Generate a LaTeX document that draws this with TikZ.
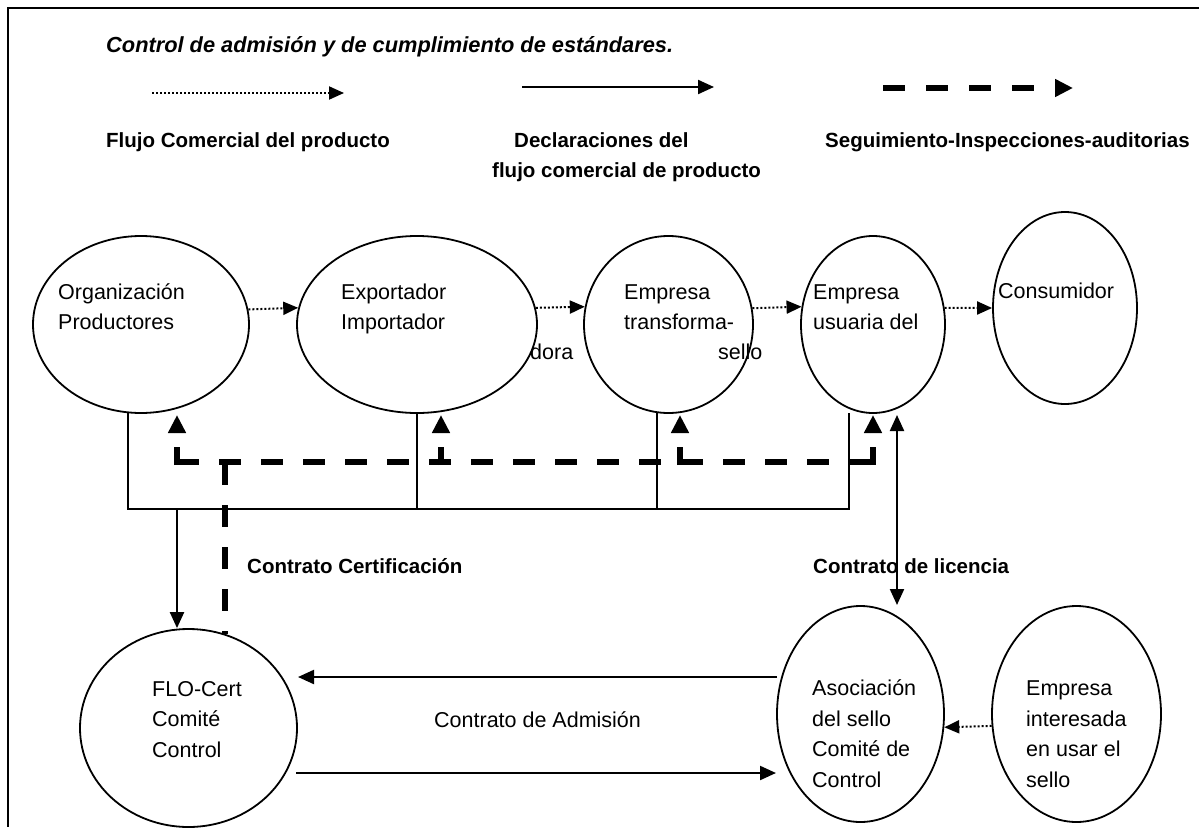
\documentclass[tikz,border=0pt]{standalone}
\usepackage{fontspec}
\setmainfont{Liberation Sans}
\usetikzlibrary{arrows.meta,shapes.geometric,calc}

\begin{document}
\begin{tikzpicture}[x=1pt,y=-1pt,
  oval/.style={ellipse, draw, line width=1.8pt, inner sep=0pt},
  body/.style={font=\fontsize{21.5pt}{30.5pt}\selectfont, align=left, anchor=base west, inner sep=0pt},
  legend/.style={font=\bfseries\fontsize{20.5pt}{30pt}\selectfont, align=left, anchor=base west, inner sep=0pt},
  flow/.style={line width=2pt, dash pattern=on 2pt off 2pt, -{Triangle[length=15pt,width=13pt]}},
  decl/.style={line width=2.2pt, -{Triangle[length=16pt,width=14pt]}},
  decl2/.style={line width=2.2pt, {Triangle[length=16pt,width=14pt]}-{Triangle[length=16pt,width=14pt]}},
  bracket/.style={line width=1.6pt},
  audit/.style={line width=6pt, dash pattern=on 22pt off 20pt},
  auditkey/.style={line width=6pt, dash pattern=on 22pt off 21pt, -{Triangle[length=18pt,width=17pt]}},
  auditup/.style={line width=6pt, dash pattern=on 18pt off 14pt, -{Triangle[length=18pt,width=17pt]}},
]
\useasboundingbox (0,0) rectangle (1199,827);

% outer frame (top and left edges)
\draw[line width=2.5pt] (1199,8) -- (8,8) -- (8,827);

% legend (multi-line nodes are placed by the baseline of their last line)
\node[legend, font=\bfseries\itshape\fontsize{21.8pt}{30pt}\selectfont] (title) at (106,52) {Control de admisión y de cumplimiento de estándares.};
\coordinate (kf1) at (152,93);  \coordinate (kf2) at (344,93);
\coordinate (kd1) at (522,87);  \coordinate (kd2) at (714,87);
\coordinate (ka1) at (883,88);  \coordinate (ka2) at (1073,88);
\draw[flow] (kf1) -- (kf2);
\draw[decl] (kd1) -- (kd2);
\draw[auditkey] (ka1) -- (ka2);
\node[legend] (kflow) at (106,147) {Flujo Comercial del producto};
\node[legend] (kdecl) at (492,177) {\hspace*{22pt}Declaraciones del\\flujo comercial de producto};
\node[legend] (kaudit) at (825,147) {Seguimiento-Inspecciones-auditorias};

% chain of actors
\node[oval, minimum width=216pt, minimum height=177pt] (org)  at (141,324.5) {};
\node[oval, minimum width=240pt, minimum height=177pt] (exp)  at (417,324.5) {};
\node[oval, minimum width=169pt, minimum height=177pt] (tra)  at (668.5,324.5) {};
\node[oval, minimum width=144pt, minimum height=177pt] (usu)  at (873,324.5) {};
\node[oval, minimum width=144pt, minimum height=192pt] (cons) at (1065,308) {};

\node[body] (torg) at (58,329.5) {Organización\\Productores};
\node[body] (texp) at (341,329.5) {Exportador\\Importador};
\node[body] (tdora) at (530,359) {dora};
\node[body] (ttra) at (624,329.5) {Empresa\\transforma-};
\node[body] (tsel) at (718,359) {sello};
\node[body] (tusu) at (813,329.5) {Empresa\\usuaria del};
\node[body] (tcons) at (998,298) {Consumidor};

% commercial flow
\draw[flow] (org.8.8) -- (exp.172);
\draw[flow] (exp.8) -- (tra.168.8);
\draw[flow] (tra.11.2) -- (usu.166.9);
\draw[flow] (usu.13.1) -- (cons.west);

% control bodies
\node[oval, minimum width=217pt, minimum height=198pt] (flo) at (188.5,728) {};
\node[oval, minimum width=167pt, minimum height=216pt] (aso) at (860.5,714) {};
\node[oval, minimum width=169pt, minimum height=216pt] (int) at (1076.5,714) {};

\node[body] (tflo) at (152,757) {FLO-Cert\\Comité\\Control};
\node[body] (taso) at (812,787) {Asociación\\del sello\\Comité de\\Control};
\node[body] (tint) at (1026,787) {Empresa\\interesada\\en usar el\\sello};

% declarations bracket
\coordinate (b1) at (128,413); \coordinate (b2) at (417,413);
\coordinate (b3) at (657,413); \coordinate (b4) at (849,413);
\coordinate (c1) at (128,509); \coordinate (c2) at (417,509);
\coordinate (c3) at (657,509); \coordinate (c4) at (849,509);
\coordinate (cd) at (177,509);
\draw[bracket] (b1) -- (c1) -- (c4) -- (b4);
\draw[bracket] (b2) -- (c2);
\draw[bracket] (b3) -- (c3);
\draw[decl] (cd) -- (flo.north -| cd);

% follow-up and inspections
\coordinate (fL) at (177,462); \coordinate (fR) at (873,462);
\coordinate (fJ) at (225,463); \coordinate (fB) at (225,634);
\draw[audit] (fL) -- (fR);
\draw[audit] (fJ) -- (fB);
\foreach \x in {177,441,680,873}{
  \draw[auditup] (\x,465) -- (\x,415);
}

% contracts
\node[legend] (lcert) at (247,573) {Contrato Certificación};
\node[legend] (llic) at (813,573) {Contrato de licencia};
\coordinate (l1) at (897,415); \coordinate (l2) at (897,605);
\draw[decl2] (l1) -- (l2);

\coordinate (a1) at (777,677); \coordinate (a2) at (298,677);
\coordinate (a3) at (296,773); \coordinate (a4) at (776,773);
\draw[decl] (a1) -- (a2);
\draw[decl] (a3) -- (a4);
\node[body] (tadm) at (434,727) {Contrato de Admisión};

\draw[flow] (int.188.1) -- (aso.351.8);
\end{tikzpicture}
\end{document}
